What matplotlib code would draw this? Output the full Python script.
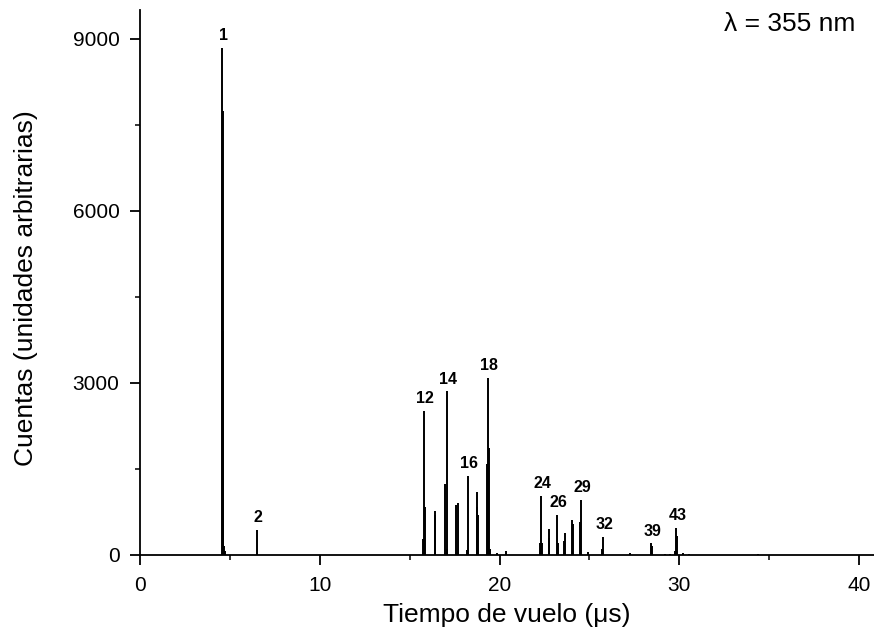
import matplotlib.pyplot as plt
from matplotlib.ticker import MultipleLocator

plt.rcParams['font.family'] = ['Liberation Sans', 'DejaVu Sans']

# tiempo de vuelo (us) y cuentas de cada pico del espectro
peak_t = [4.55, 4.58, 4.61, 4.66, 4.72,
          6.47,
          15.71, 15.78, 15.83, 16.40, 16.43,
          16.99, 17.05, 17.10, 17.60, 17.66,
          18.18, 18.23, 18.73, 18.77, 18.81,
          19.28, 19.34, 19.40, 19.45, 19.86, 20.38,
          22.26, 22.31, 22.36, 22.74, 22.78,
          23.22, 23.27, 23.60, 23.65, 24.05, 24.10,
          24.48, 24.54, 24.95, 25.68, 25.74, 27.28,
          28.43, 28.49, 29.20, 29.50,
          29.78, 29.84, 29.90, 30.23, 30.53, 34.40]
peak_counts = [8840, 7730, 3900, 150, 60,
               440,
               270, 2510, 830, 700, 770,
               1230, 2850, 100, 870, 900,
               80, 1380, 830, 1090, 700,
               1580, 3090, 1860, 100, 40, 60,
               200, 1030, 200, 300, 450,
               700, 200, 250, 380, 600, 540,
               570, 960, 50, 100, 310, 30,
               200, 160, 15, 15,
               75, 470, 325, 30, 20, 20]

# numero de cada cumulo y tiempo del pico que lo identifica
label_names = ['1', '2', '12', '14', '16', '18', '24', '26', '29', '32', '39', '43']
label_t = [4.55, 6.47, 15.78, 17.05, 18.23, 19.34, 22.31, 23.22, 24.54, 25.74, 28.43, 29.84]

fig = plt.figure(figsize=(8.74, 6.43), dpi=100)
ax = fig.add_axes([0.1606, 0.137, 0.8394, 0.8476])

ax.vlines(peak_t, 0, peak_counts, color='black', lw=1.4)

for name, t in zip(label_names, label_t):
    h = peak_counts[peak_t.index(t)]
    ax.annotate(name, (t, h), xytext=(1, 3.5), textcoords='offset points',
                ha='center', va='bottom', fontsize=11.5, fontweight='bold')

ax.set_xlim(0, 40.85)
ax.set_ylim(0, 9500)
ax.xaxis.set_major_locator(MultipleLocator(10))
ax.xaxis.set_minor_locator(MultipleLocator(5))
ax.yaxis.set_major_locator(MultipleLocator(3000))
ax.yaxis.set_minor_locator(MultipleLocator(1500))

for s in ['top', 'right']:
    ax.spines[s].set_visible(False)
for s in ['left', 'bottom']:
    ax.spines[s].set_linewidth(1.3)

ax.tick_params(which='major', direction='out', length=7, width=1.3, labelsize=15)
ax.tick_params(axis='x', which='major', pad=8)
ax.tick_params(axis='y', which='major', pad=8)
ax.tick_params(which='minor', direction='out', length=3.6, width=1.1)

ax.set_xlabel('Tiempo de vuelo (μs)', fontsize=19)
ax.set_ylabel('Cuentas (unidades arbitrarias)', fontsize=19)
ax.xaxis.set_label_coords(0.5, -0.089)
ax.yaxis.set_label_coords(-0.139, 0.49)

ax.text(0.885, 0.975, 'λ = 355 nm', transform=ax.transAxes,
        ha='center', va='center', fontsize=19)

fig.savefig('out.png', dpi=100)
